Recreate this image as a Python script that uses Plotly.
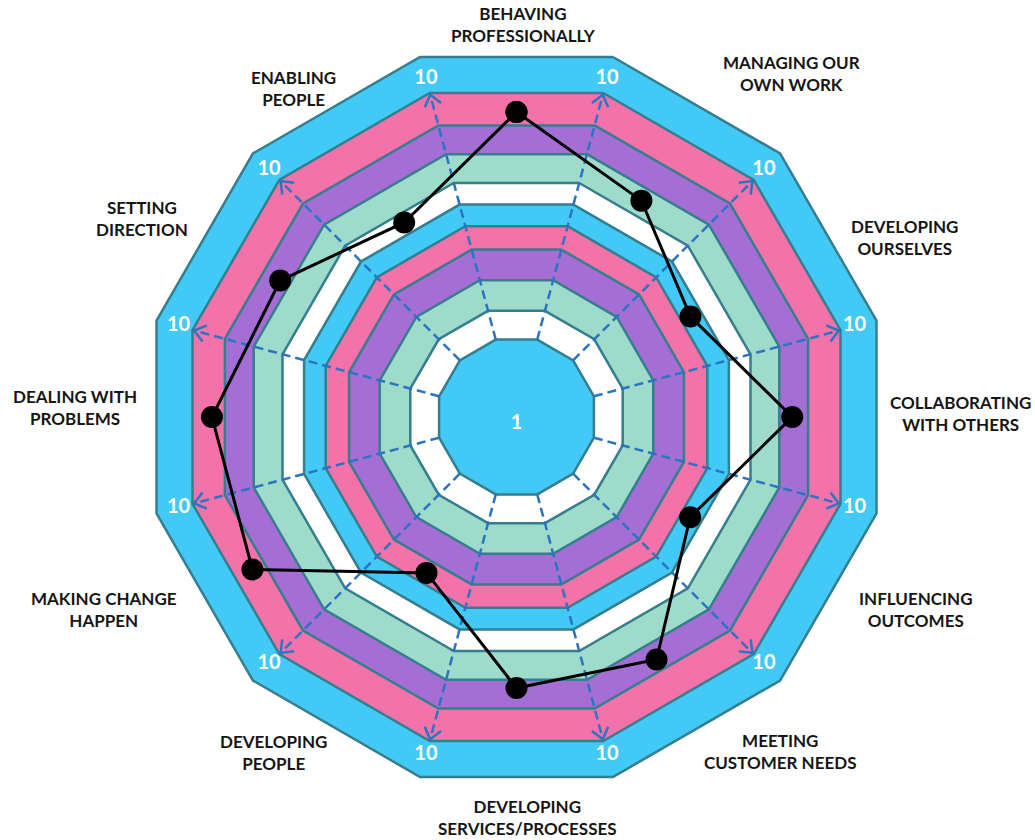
import math
import plotly.graph_objects as go

# ---------------- data ----------------
categories = [
    "BEHAVING<br>PROFESSIONALLY", "MANAGING OUR<br>OWN WORK", "DEVELOPING<br>OURSELVES",
    "COLLABORATING<br>WITH OTHERS", "INFLUENCING<br>OUTCOMES", "MEETING<br>CUSTOMER NEEDS",
    "DEVELOPING<br>SERVICES/PROCESSES", "DEVELOPING<br>PEOPLE", "MAKING CHANGE<br>HAPPEN",
    "DEALING WITH<br>PROBLEMS", "SETTING<br>DIRECTION", "ENABLING<br>PEOPLE",
]
scores = [8.47, 6.94, 5.58, 7.66, 5.57, 7.78, 7.53, 5.0, 8.47, 8.46, 7.58, 6.24]
category_angles = [0, 30, 60, 90, 120, 150, 180, 210, 240, 270, 300, 330]

# band edges (apothem of each dodecagon, in score units) from outside to inside
band_edges = [10.0, 9.0, 8.1, 7.3, 6.5, 5.9, 5.3, 4.65, 3.8, 2.95, 2.15]
band_colors = ["#43C9F5", "#F472AA", "#A56ED4", "#9FDBCA", "#FFFFFF",
               "#43C9F5", "#F472AA", "#A56ED4", "#9FDBCA", "#FFFFFF", "#43C9F5"]
scale_axis_angles = [15, 45, 75, 105, 135, 165, 195, 225, 255, 285, 315, 345]
scale_max_label = "10"
scale_min_label = "1"

# label positions in page pixels (layout only)
label_pos = [(523, 24), (791, 73), (904, 237), (960, 413), (915, 609), (780, 751),
             (527, 817), (273, 752), (104, 609), (75, 407), (142, 219), (293, 89)]

W, H = 1035, 840
OUTLINE = "#347E8D"
ARROW = "#2B74C2"

fig = go.Figure()

cos15 = math.cos(math.radians(15))
poly_theta = scale_axis_angles + [scale_axis_angles[0]]

# concentric dodecagon bands
for edge, col in zip(band_edges, band_colors):
    fig.add_trace(go.Scatterpolar(
        r=[edge / cos15] * len(poly_theta), theta=poly_theta,
        mode="lines", fill="toself", fillcolor=col,
        line=dict(color=OUTLINE, width=2.5), hoverinfo="skip", showlegend=False))

# dashed axes
r_start = band_edges[-1] / cos15
r_tip = band_edges[1] / cos15 - 0.05
ar, at = [], []
for a in scale_axis_angles:
    ar += [r_start, r_tip, None]
    at += [a, a, None]
fig.add_trace(go.Scatterpolar(r=ar, theta=at, mode="lines",
                              line=dict(color=ARROW, width=2.5, dash="9px,5px"),
                              hoverinfo="skip", showlegend=False))

# chevron arrow heads
hr, ht = [], []
L = 0.38
for a in scale_axis_angles:
    t = math.radians(a)
    tx, ty = r_tip * math.sin(t), r_tip * math.cos(t)
    pts = []
    for s in (-38, 38):
        d = t + math.radians(s)
        bx, by = tx - L * math.sin(d), ty - L * math.cos(d)
        pts.append((math.hypot(bx, by), math.degrees(math.atan2(bx, by))))
    hr += [pts[0][0], r_tip, pts[1][0], None]
    ht += [pts[0][1], a, pts[1][1], None]
fig.add_trace(go.Scatterpolar(r=hr, theta=ht, mode="lines",
                              line=dict(color=ARROW, width=2.5),
                              hoverinfo="skip", showlegend=False))

# "10" labels and centre "1"
fig.add_trace(go.Scatterpolar(
    r=[9.72] * len(scale_axis_angles), theta=scale_axis_angles, mode="text",
    text=["<b>" + scale_max_label + "</b>"] * len(scale_axis_angles),
    textfont=dict(color="white", size=20, family="Lato"),
    hoverinfo="skip", showlegend=False))
fig.add_trace(go.Scatterpolar(
    r=[0.2], theta=[180], mode="text", text=["<b>" + scale_min_label + "</b>"],
    textfont=dict(color="white", size=20, family="Lato"),
    hoverinfo="skip", showlegend=False))

# data line
fig.add_trace(go.Scatterpolar(
    r=scores + [scores[0]], theta=category_angles + [category_angles[0]],
    mode="lines+markers",
    line=dict(color="black", width=3),
    marker=dict(color="black", size=22),
    text=[c.replace("<br>", " ") for c in categories] + [categories[0].replace("<br>", " ")],
    showlegend=False))

# category labels
for c, (px, py) in zip(categories, label_pos):
    fig.add_annotation(x=px / W, y=1 - py / H, xref="paper", yref="paper",
                       text="<b>" + c + "</b>", showarrow=False,
                       xanchor="center", yanchor="middle",
                       font=dict(family="Lato", size=17, color="#151515"))

cx, cy, R = 516.5, 417, 10.5 * 36
fig.update_layout(
    width=W, height=H, margin=dict(l=0, r=0, t=0, b=0),
    paper_bgcolor="white", plot_bgcolor="white",
    polar=dict(
        domain=dict(x=[(cx - R) / W, (cx + R) / W], y=[1 - (cy + R) / H, 1 - (cy - R) / H]),
        bgcolor="rgba(0,0,0,0)",
        radialaxis=dict(visible=False, range=[0, 10.5]),
        angularaxis=dict(visible=False, direction="clockwise", rotation=90,
                         showgrid=False, showline=False, showticklabels=False),
    ),
)

fig.write_html("out.html")
